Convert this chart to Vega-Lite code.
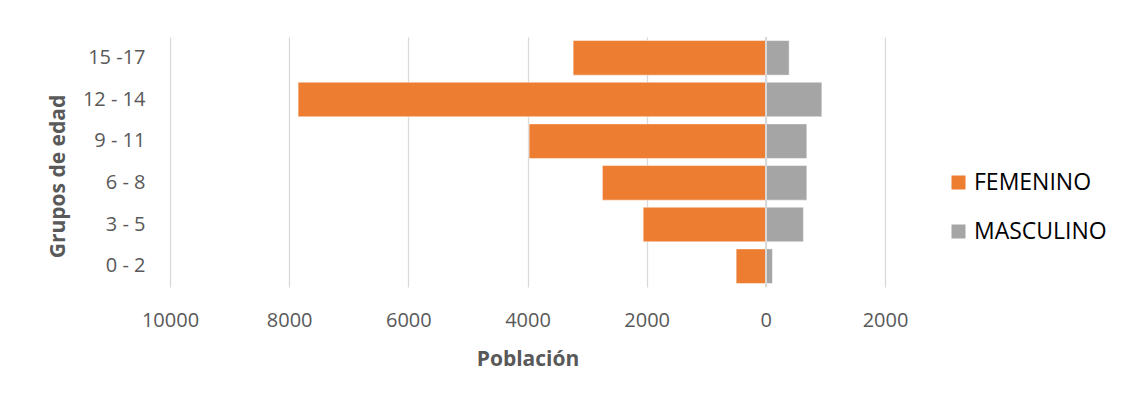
{
  "$schema": "https://vega.github.io/schema/vega-lite/v6.json",
  "width": 715,
  "height": 250,
  "autosize": {"type": "none"},
  "padding": {"left": 170, "top": 37, "right": 238, "bottom": 115},
  "background": "white",
  "config": {"view": {"stroke": null}, "font": "Open Sans"},
  "data": {
    "values": [
      {"grupo": "15 -17", "sexo": "FEMENINO", "poblacion": -3234},
      {"grupo": "12 - 14", "sexo": "FEMENINO", "poblacion": -7850},
      {"grupo": "9 - 11", "sexo": "FEMENINO", "poblacion": -3973},
      {"grupo": "6 - 8", "sexo": "FEMENINO", "poblacion": -2743},
      {"grupo": "3 - 5", "sexo": "FEMENINO", "poblacion": -2059},
      {"grupo": "0 - 2", "sexo": "FEMENINO", "poblacion": -498},
      {"grupo": "15 -17", "sexo": "MASCULINO", "poblacion": 391},
      {"grupo": "12 - 14", "sexo": "MASCULINO", "poblacion": 940},
      {"grupo": "9 - 11", "sexo": "MASCULINO", "poblacion": 688},
      {"grupo": "6 - 8", "sexo": "MASCULINO", "poblacion": 688},
      {"grupo": "3 - 5", "sexo": "MASCULINO", "poblacion": 631},
      {"grupo": "0 - 2", "sexo": "MASCULINO", "poblacion": 111}
    ]
  },
  "layer": [
    {
      "mark": {"type": "bar", "stroke": "white", "strokeWidth": 0.8, "strokeOpacity": 0.6},
      "encoding": {
        "y": {
          "field": "grupo",
          "type": "nominal",
          "sort": ["15 -17", "12 - 14", "9 - 11", "6 - 8", "3 - 5", "0 - 2"],
          "scale": {"paddingInner": 0.17, "paddingOuter": 0.085},
          "axis": {
            "title": "Grupos de edad",
            "titleFontSize": 21,
            "titleFontWeight": "bold",
            "titleColor": "#595959",
            "titleAngle": -90,
            "titleX": -106,
            "titleY": 139,
            "titleAlign": "center",
            "titleBaseline": "alphabetic",
            "labelFontSize": 20,
            "labelColor": "#595959",
            "labelPadding": 25,
            "ticks": false,
            "domain": false,
            "grid": false
          }
        },
        "x": {
          "field": "poblacion",
          "type": "quantitative",
          "stack": null,
          "scale": {"domain": [-10000, 2000], "nice": false, "zero": false},
          "axis": {
            "title": "Población",
            "titleFontSize": 21,
            "titleFontWeight": "bold",
            "titleColor": "#595959",
            "titleY": 78,
            "titleBaseline": "alphabetic",
            "values": [-10000, -8000, -6000, -4000, -2000, 0, 2000],
            "labelExpr": "format(abs(datum.value), 'd')",
            "labelFlush": false,
            "labelOverlap": false,
            "labelFontSize": 20,
            "labelColor": "#595959",
            "labelPadding": 23,
            "tickSize": 0,
            "ticks": false,
            "domain": false,
            "grid": true,
            "gridColor": "#D9D9D9",
            "gridWidth": 1.3
          }
        },
        "color": {
          "field": "sexo",
          "type": "nominal",
          "scale": {"domain": ["FEMENINO", "MASCULINO"], "range": ["#ED7D31", "#A5A5A5"]},
          "legend": {
            "title": null,
            "orient": "none",
            "legendX": 777,
            "legendY": 134,
            "symbolType": "square",
            "symbolSize": 196,
            "symbolStrokeWidth": 0,
            "labelFontSize": 23,
            "labelColor": "#000000",
            "labelOffset": 4,
            "rowPadding": 25
          }
        }
      }
    },
    {
      "mark": {"type": "rule", "color": "#D9D9D9", "strokeWidth": 1.5},
      "encoding": {"x": {"datum": 0}}
    }
  ]
}
